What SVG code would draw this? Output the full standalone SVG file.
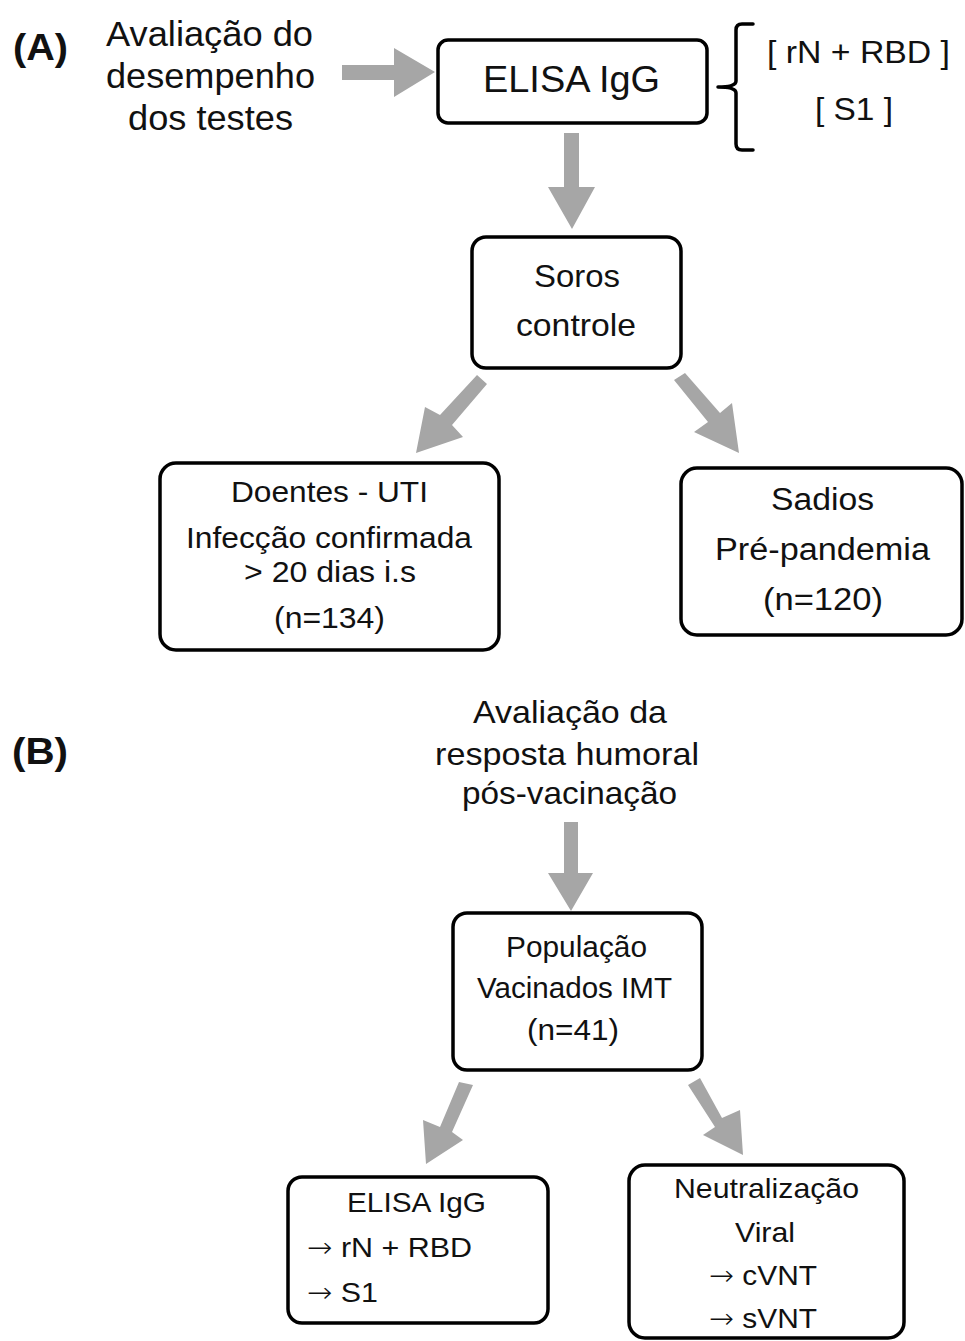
<svg xmlns="http://www.w3.org/2000/svg" width="965" height="1341" viewBox="0 0 965 1341">
<style>
.box{fill:#fff;stroke:#000;stroke-width:3.5}
.arr{fill:#a6a6a6;stroke:none}
.br{fill:none;stroke:#000;stroke-width:3.5;stroke-linecap:round;stroke-linejoin:round}
text{font-family:"Liberation Sans",Arial,sans-serif;fill:#111}
.b{font-weight:bold}
.ar{font-family:"DejaVu Sans",sans-serif;font-weight:200}
</style>
<rect width="965" height="1341" fill="#fff"/>
<g id="connectors">
<path class="arr" d="M342,65 H394 V48 L435,72 L394,97 V80 H342 Z"/>
<path class="arr" d="M564,133 H579 V187 H595 L572,229 L548,187 H564 Z"/>
<path class="arr" d="M477,375 L487,384 L452,425 L463,437 L416,453 L425,407 L440,415 Z"/>
<path class="arr" d="M674,380 L685,373 L720,413 L732,403 L739,453 L694,432 L708,422 Z"/>
<path class="arr" d="M564,822 H578 V873 H593 L571,911 L548,873 H564 Z"/>
<path class="arr" d="M459,1082 L473,1085 L452,1132 L463,1140 L426,1164 L423,1120 L440,1127 Z"/>
<path class="arr" d="M688,1085 L700,1078 L722,1118 L740,1110 L743,1155 L703,1135 L715,1127 Z"/>
<path class="br" d="M753,24 L742,24 Q736,24 736,30 L736,81 Q736,87 718,87 Q736,87 736,93 L736,144 Q736,150 742,150 L753,150"/>
</g>
<g id="label-A"><text class="b" x="13" y="60" font-size="37" textLength="55" lengthAdjust="spacingAndGlyphs">(A)</text></g>
<g id="intro-A">
<text x="106" y="46" font-size="35" textLength="207" lengthAdjust="spacingAndGlyphs">Avaliação do</text>
<text x="106" y="88" font-size="35" textLength="209" lengthAdjust="spacingAndGlyphs">desempenho</text>
<text x="128" y="130" font-size="35" textLength="165" lengthAdjust="spacingAndGlyphs">dos testes</text>
</g>
<g id="elisa-top">
<rect class="box" x="438" y="40" width="269" height="83" rx="10"/>
<text x="483" y="92" font-size="37" textLength="177" lengthAdjust="spacingAndGlyphs">ELISA IgG</text>
</g>
<g id="antigens">
<text x="767" y="63" font-size="31" textLength="183" lengthAdjust="spacingAndGlyphs">[ rN + RBD ]</text>
<text x="815" y="120" font-size="31" textLength="78" lengthAdjust="spacingAndGlyphs">[ S1 ]</text>
</g>
<g id="soros">
<rect class="box" x="472" y="237" width="209" height="131" rx="14"/>
<text x="534" y="287" font-size="32" textLength="86" lengthAdjust="spacingAndGlyphs">Soros</text>
<text x="516" y="336" font-size="32" textLength="120" lengthAdjust="spacingAndGlyphs">controle</text>
</g>
<g id="doentes">
<rect class="box" x="160" y="463" width="339" height="187" rx="16"/>
<text x="231" y="502" font-size="29" textLength="197" lengthAdjust="spacingAndGlyphs">Doentes - UTI</text>
<text x="186" y="548" font-size="29" textLength="286" lengthAdjust="spacingAndGlyphs">Infecção confirmada</text>
<text x="244" y="582" font-size="29" textLength="172" lengthAdjust="spacingAndGlyphs">&gt; 20 dias i.s</text>
<text x="274" y="628" font-size="29" textLength="111" lengthAdjust="spacingAndGlyphs">(n=134)</text>
</g>
<g id="sadios">
<rect class="box" x="681" y="468" width="281" height="167" rx="16"/>
<text x="771" y="510" font-size="31" textLength="103" lengthAdjust="spacingAndGlyphs">Sadios</text>
<text x="715" y="560" font-size="31" textLength="215" lengthAdjust="spacingAndGlyphs">Pré-pandemia</text>
<text x="763" y="610" font-size="31" textLength="120" lengthAdjust="spacingAndGlyphs">(n=120)</text>
</g>
<g id="label-B"><text class="b" x="12" y="764" font-size="37" textLength="56" lengthAdjust="spacingAndGlyphs">(B)</text></g>
<g id="intro-B">
<text x="473" y="723" font-size="32" textLength="194" lengthAdjust="spacingAndGlyphs">Avaliação da</text>
<text x="435" y="765" font-size="32" textLength="264" lengthAdjust="spacingAndGlyphs">resposta humoral</text>
<text x="462" y="804" font-size="32" textLength="215" lengthAdjust="spacingAndGlyphs">pós-vacinação</text>
</g>
<g id="populacao">
<rect class="box" x="453" y="913" width="249" height="157" rx="14"/>
<text x="506" y="957" font-size="29" textLength="141" lengthAdjust="spacingAndGlyphs">População</text>
<text x="477" y="998" font-size="29" textLength="195" lengthAdjust="spacingAndGlyphs">Vacinados IMT</text>
<text x="527" y="1040" font-size="29" textLength="92" lengthAdjust="spacingAndGlyphs">(n=41)</text>
</g>
<g id="elisa-b">
<rect class="box" x="288" y="1177" width="260" height="146" rx="14"/>
<text x="347" y="1212" font-size="28" textLength="139" lengthAdjust="spacingAndGlyphs">ELISA IgG</text>
<text x="307" y="1257" font-size="28" textLength="165" lengthAdjust="spacingAndGlyphs"><tspan class="ar">→</tspan> rN + RBD</text>
<text x="307" y="1302" font-size="28" textLength="71" lengthAdjust="spacingAndGlyphs"><tspan class="ar">→</tspan> S1</text>
</g>
<g id="neutralizacao">
<rect class="box" x="629" y="1165" width="275" height="173" rx="16"/>
<text x="674" y="1198" font-size="28" textLength="185" lengthAdjust="spacingAndGlyphs">Neutralização</text>
<text x="735" y="1242" font-size="28" textLength="60" lengthAdjust="spacingAndGlyphs">Viral</text>
<text x="709" y="1285" font-size="28" textLength="108" lengthAdjust="spacingAndGlyphs"><tspan class="ar">→</tspan> cVNT</text>
<text x="709" y="1328" font-size="28" textLength="108" lengthAdjust="spacingAndGlyphs"><tspan class="ar">→</tspan> sVNT</text>
</g>
</svg>
